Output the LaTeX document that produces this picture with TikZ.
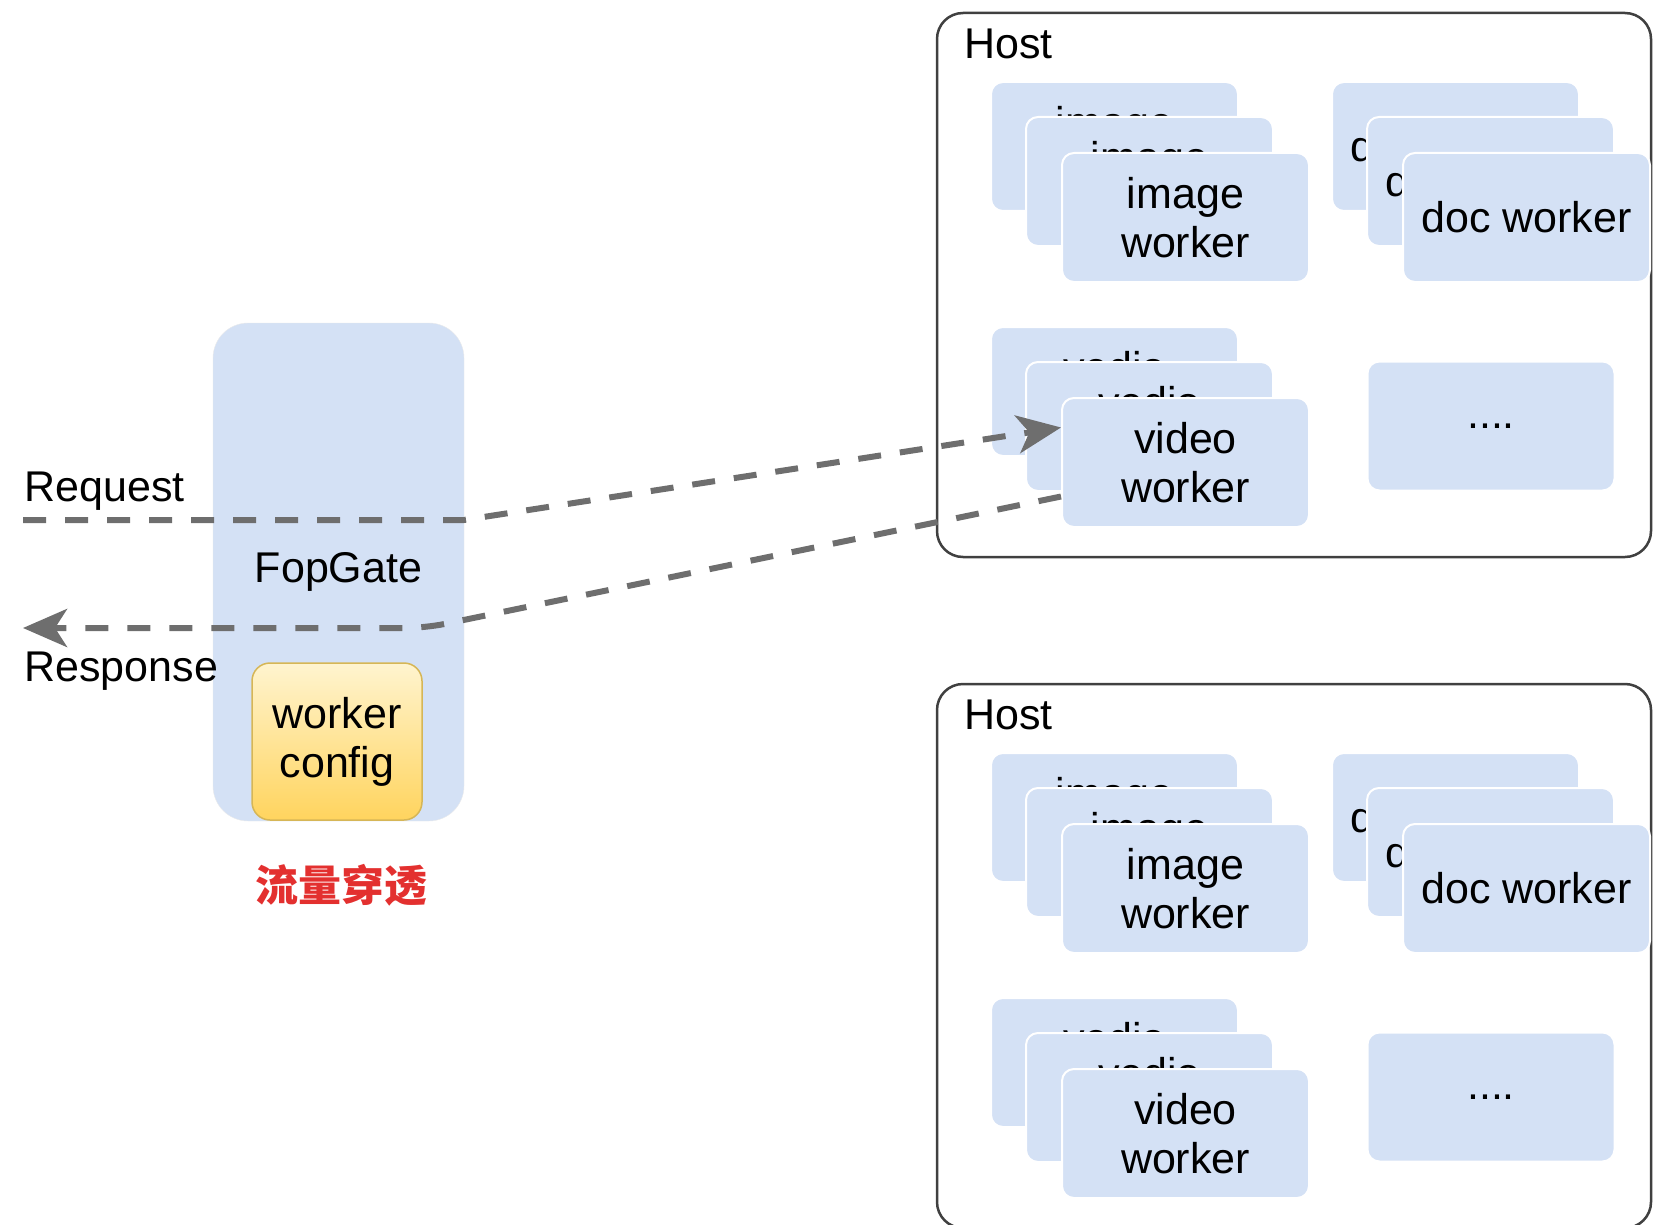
\documentclass[tikz,border=0pt]{standalone}
\usepackage{fontspec}
\setmainfont{Liberation Sans}
\newfontfamily\cjk{Noto Sans CJK SC}
\usetikzlibrary{arrows.meta,positioning}
\definecolor{workerblue}{HTML}{D4E1F5}
\definecolor{flowgray}{HTML}{6E6E6E}
\definecolor{cfgtop}{HTML}{FFF4CF}
\definecolor{cfgbottom}{HTML}{FFD45E}
\definecolor{cfgline}{HTML}{D6B656}
\definecolor{tipred}{HTML}{E3302F}
\begin{document}
\begin{tikzpicture}
    [x = 1pt, y = -1pt,
     every node/.style = {font = \fontsize{43}{49}\selectfont},
     worker/.style = {rectangle, rounded corners = 12pt, fill = workerblue, draw = white,
                      line width = 2pt, minimum width = 247pt, minimum height = 129pt,
                      align = center, inner sep = 0pt},
     host/.style = {rectangle, rounded corners = 26pt, draw = black!75, line width = 2.5pt,
                    fill = white, minimum width = 714pt, minimum height = 544pt},
     gate/.style = {rectangle, rounded corners = 35pt, fill = workerblue, draw = black!8,
                    minimum width = 251pt, minimum height = 498pt},
     cfg/.style = {rectangle, rounded corners = 18pt, top color = cfgtop, bottom color = cfgbottom,
                   draw = cfgline, line width = 1.5pt, minimum width = 170pt,
                   minimum height = 157pt, align = center, inner sep = 0pt},
     flow/.style = {draw = flowgray, line width = 6pt, dash pattern = on 23pt off 19pt},
     tiphead/.style = {-{Stealth[length = 44pt, width = 38pt, inset = 12pt]}}]
    \useasboundingbox (0,0) rectangle (1654,1225);

    % hosts with their workers
    \foreach \dy/\h in {0/A, 671/B} {
        \node[host] (host\h) at (1294, 285+\dy) {};
        \node[anchor = base west] (hostlabel\h) at ([shift = {(25,47)}]host\h.north west) {Host};
        \node[worker] (img\h1) at (1114.5, 146.5+\dy) {image\\worker};
        \node[worker] (img\h2) at ([shift = {(35,35)}]img\h1) {image\\worker};
        \node[worker] (img\h3) at ([shift = {(36,36)}]img\h2) {image\\worker};
        \node[worker] (doc\h1) at (1455.5, 146.5+\dy) {doc worker};
        \node[worker] (doc\h2) at ([shift = {(35,35)}]doc\h1) {doc worker};
        \node[worker] (doc\h3) at ([shift = {(36,36)}]doc\h2) {doc worker};
        \node[worker] (vid\h1) at (1114.5, 391.5+\dy) {vedio\\worker};
        \node[worker] (vid\h2) at ([shift = {(35,35)}]vid\h1) {vedio\\worker};
        \node[worker] (vid\h3) at ([shift = {(36,36)}]vid\h2) {video\\worker};
        \node[worker] (more\h) at (1491, 426+\dy) {....};
    }

    % gateway
    \node[gate] (gate) at (338.5,572) {FopGate};
    \node[cfg] (cfg) at (337,741.5) {worker\\config};
    \node[text = tipred, font = \cjk\bfseries\fontsize{43}{49}\selectfont] (tip) at (341,885) {流量穿透};

    \node[anchor = base west] (reqlabel) at (21,501) {Request};
    \node[anchor = base west] (reslabel) at (21,681) {Response};

    % traffic
    \coordinate (reqin) at (23,520);
    \coordinate (resout) at (23,628);
    \draw[flow, tiphead] (reqin) -- (464,520) -- ([yshift = 35pt]vidA3.west);
    \draw[flow, tiphead, rounded corners = 20pt] ([yshift = -34pt]vidA3.west) -- (425,628) -- (resout);
\end{tikzpicture}
\end{document}
